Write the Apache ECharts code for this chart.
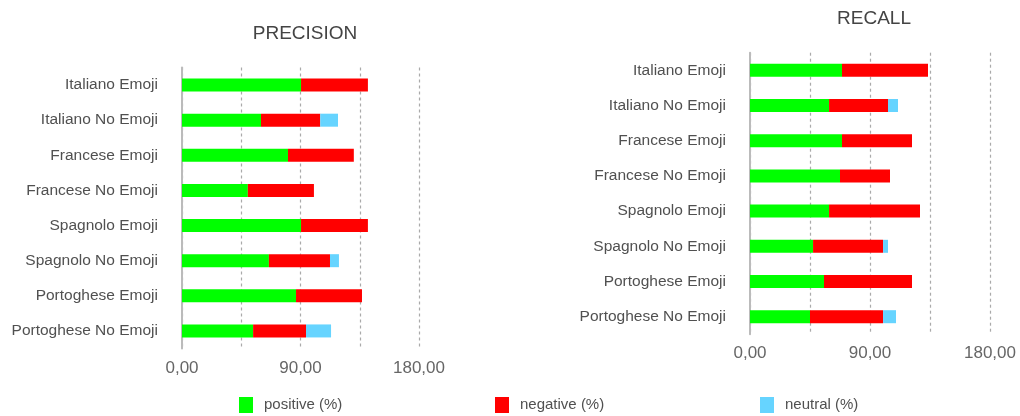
<!DOCTYPE html>
<html>
<head>
<meta charset="utf-8">
<script src="https://cdn.jsdelivr.net/npm/echarts@6/dist/echarts.min.js"></script>
<style>
  html, body { margin: 0; padding: 0; background: #ffffff; }
  #chart { width: 1020px; height: 416px; }
</style>
</head>
<body>
<div id="chart"></div>
<script>
// Categories, top to bottom
const categories = [
  'Italiano Emoji', 'Italiano No Emoji', 'Francese Emoji', 'Francese No Emoji',
  'Spagnolo Emoji', 'Spagnolo No Emoji', 'Portoghese Emoji', 'Portoghese No Emoji'
];

// PRECISION values (%)
const precisionPositive = [90.4, 60, 80.5, 50, 90.4, 66, 86.6, 54];
const precisionNegative = [50.8, 45, 50, 50.2, 50.8, 46.4, 50.1, 40.2];
const precisionNeutral  = [0, 13.5, 0, 0, 0, 6.8, 0, 19];

// RECALL values (%)
const recallPositive = [69, 59.3, 69, 67.5, 59.3, 47.3, 55.5, 45];
const recallNegative = [64.5, 44.2, 52.5, 37.5, 68.2, 52.5, 66, 54.8];
const recallNeutral  = [0, 7.5, 0, 0, 0, 3.7, 0, 9.7];

// Value axis ticks
const axisMin = 0;
const axisMax = 180;
const axisStep = 45;
const labeledTicks = [0, 90, 180];

const seriesNames = ['positive (%)', 'negative (%)', 'neutral (%)'];
const seriesColors = ['#00ff00', '#ff0000', '#66d4ff'];

const textColor = '#505050';
const fontFamily = '"Liberation Sans", Arial, sans-serif';

function valueAxis(gridIndex) {
  return {
    type: 'value', gridIndex: gridIndex,
    min: axisMin, max: axisMax, interval: axisStep,
    axisLine: { show: false },
    axisTick: { show: false },
    splitLine: { show: true, lineStyle: { color: '#aaaaaa', type: [3, 3], width: 1.2 } },
    axisLabel: {
      color: '#666666', fontSize: 17, fontFamily: fontFamily, margin: 11,
      formatter: v => labeledTicks.includes(v) ? v.toFixed(2).replace('.', ',') : ''
    }
  };
}

function categoryAxis(gridIndex) {
  return {
    type: 'category', gridIndex: gridIndex, data: categories, inverse: true,
    axisLine: { show: true, lineStyle: { color: '#bbbbbb', width: 2 } },
    axisTick: { show: false },
    axisLabel: { color: textColor, fontSize: 15.5, fontFamily: fontFamily, margin: 24 }
  };
}

function stackSeries(gridIndex, values) {
  return values.map((data, i) => ({
    name: seriesNames[i], type: 'bar', stack: 'g' + gridIndex,
    xAxisIndex: gridIndex, yAxisIndex: gridIndex,
    barWidth: 13, data: data,
    itemStyle: { color: seriesColors[i] },
    emphasis: { disabled: true }
  }));
}

const legendLefts = [234, 490, 755];

const option = {
  animation: false,
  backgroundColor: '#ffffff',
  title: [
    { text: 'PRECISION', left: 300, top: 19, textAlign: 'center',
      textStyle: { color: '#444444', fontSize: 19, fontWeight: 'normal', fontFamily: fontFamily } },
    { text: 'RECALL', left: 869, top: 4, textAlign: 'center',
      textStyle: { color: '#444444', fontSize: 19, fontWeight: 'normal', fontFamily: fontFamily } }
  ],
  legend: seriesNames.map((name, i) => ({
    data: [name], left: legendLefts[i], top: 392,
    itemWidth: 14, itemHeight: 16, itemGap: 10,
    icon: 'rect',
    textStyle: { color: textColor, fontSize: 15, fontFamily: fontFamily, padding: [0, 0, 0, 6] }
  })),
  grid: [
    { left: 182, right: 601, top: 67.5, height: 281 },
    { left: 750, right: 30, top: 52.7, height: 281.6 }
  ],
  xAxis: [valueAxis(0), valueAxis(1)],
  yAxis: [categoryAxis(0), categoryAxis(1)],
  series: [
    ...stackSeries(0, [precisionPositive, precisionNegative, precisionNeutral]),
    ...stackSeries(1, [recallPositive, recallNegative, recallNeutral])
  ]
};

echarts.init(document.getElementById('chart'), null, { renderer: 'canvas' }).setOption(option);
</script>
</body>
</html>
